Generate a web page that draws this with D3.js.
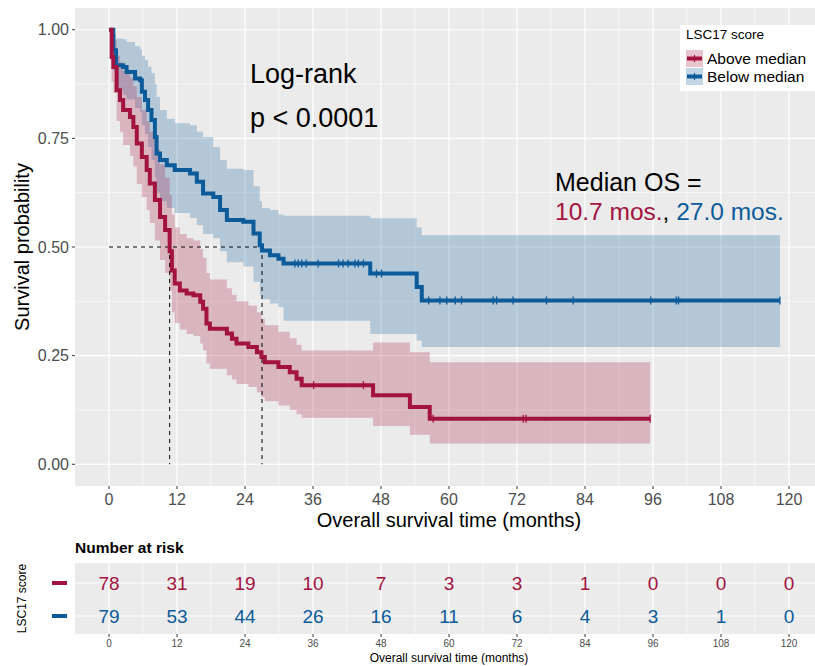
<!DOCTYPE html>
<html>
<head>
<meta charset="utf-8">
<script src="https://cdn.jsdelivr.net/npm/d3@7"></script>
<style>
  body { margin: 0; background: #fff; }
  svg text { font-family: "Liberation Sans", Arial, Helvetica, sans-serif; }
</style>
</head>
<body>
<main></main>
<script>
// survival curve for "Above median" (step points, last point = end of follow-up)
var aboveTime  = [0, 0.47, 0.76, 1.35, 1.94, 2.5, 3.7, 4.3, 4.9, 5.8, 6.65, 7.2, 8.1, 9.0, 9.9, 10.7, 11.1, 11.6, 12.5, 13.7, 14.9, 16.1, 16.6, 17.2, 17.8, 20.8, 21.7, 22.5, 24.6, 26.1, 26.9, 27.5, 29.9, 31.9, 33.1, 34.0, 46.6, 53.1, 56.6, 95.5];
var aboveSurv  = [1, 0.937, 0.914, 0.861, 0.838, 0.815, 0.799, 0.776, 0.738, 0.707, 0.677, 0.646, 0.608, 0.569, 0.539, 0.49, 0.446, 0.416, 0.400, 0.393, 0.389, 0.374, 0.358, 0.324, 0.312, 0.301, 0.289, 0.278, 0.270, 0.258, 0.247, 0.235, 0.224, 0.212, 0.197, 0.182, 0.159, 0.132, 0.105, 0.105];
var aboveUpper = [1, 0.99, 0.975, 0.94, 0.925, 0.905, 0.89, 0.87, 0.845, 0.815, 0.79, 0.765, 0.725, 0.69, 0.66, 0.62, 0.575, 0.545, 0.53, 0.52, 0.515, 0.495, 0.475, 0.44, 0.425, 0.405, 0.39, 0.375, 0.365, 0.35, 0.335, 0.32, 0.305, 0.29, 0.275, 0.262, 0.28, 0.258, 0.235, 0.235];
var aboveLower = [1, 0.88, 0.855, 0.79, 0.765, 0.735, 0.71, 0.685, 0.645, 0.615, 0.585, 0.555, 0.515, 0.47, 0.44, 0.40, 0.35, 0.325, 0.31, 0.30, 0.295, 0.278, 0.262, 0.232, 0.22, 0.205, 0.195, 0.185, 0.178, 0.166, 0.155, 0.145, 0.135, 0.125, 0.115, 0.107, 0.088, 0.068, 0.048, 0.048];
var aboveCensor = [36.1, 44.9, 57.2, 73.1, 73.6, 95.5];

// survival curve for "Below median"
var belowTime  = [0, 0.76, 1.24, 2.5, 3.1, 4.6, 5.5, 5.8, 6.35, 6.9, 7.5, 8.1, 8.4, 9.0, 10.2, 11.6, 14.3, 15.5, 16.6, 18.4, 19.6, 20.8, 23.7, 25.5, 26.6, 27.0, 28.4, 29.9, 30.8, 46.1, 54.3, 55.2, 118.4];
var belowSurv  = [1, 0.953, 0.918, 0.914, 0.903, 0.888, 0.884, 0.857, 0.838, 0.815, 0.792, 0.753, 0.715, 0.700, 0.688, 0.677, 0.669, 0.650, 0.623, 0.615, 0.585, 0.562, 0.558, 0.531, 0.504, 0.492, 0.481, 0.473, 0.462, 0.439, 0.408, 0.377, 0.377];
var belowUpper = [1, 0.99, 0.98, 0.978, 0.972, 0.962, 0.955, 0.94, 0.93, 0.915, 0.9, 0.875, 0.845, 0.815, 0.795, 0.785, 0.78, 0.765, 0.753, 0.73, 0.70, 0.68, 0.677, 0.64, 0.605, 0.59, 0.585, 0.575, 0.572, 0.566, 0.545, 0.527, 0.527];
var belowLower = [1, 0.905, 0.86, 0.85, 0.84, 0.82, 0.81, 0.78, 0.76, 0.73, 0.70, 0.66, 0.625, 0.605, 0.59, 0.578, 0.567, 0.55, 0.53, 0.52, 0.49, 0.465, 0.455, 0.42, 0.39, 0.38, 0.37, 0.362, 0.33, 0.30, 0.285, 0.27, 0.27];
var belowCensor = [32.8, 33.4, 34.0, 34.8, 36.9, 40.5, 41.3, 42.2, 43.4, 44.0, 44.9, 47.2, 48.1, 56.4, 58.4, 59.6, 61.1, 62.2, 67.8, 68.4, 71.3, 77.2, 81.9, 95.6, 100.1, 100.5, 118.4];

var medianAbove = 10.7;
var medianBelow = 27.0;

// number at risk table
var riskTimes = [0, 12, 24, 36, 48, 60, 72, 84, 96, 108, 120];
var riskAbove = [78, 31, 19, 10, 7, 3, 3, 1, 0, 0, 0];
var riskBelow = [79, 53, 44, 26, 16, 11, 6, 4, 3, 1, 0];

var xTicks = [0, 12, 24, 36, 48, 60, 72, 84, 96, 108, 120];
var yTicks = [0, 0.25, 0.5, 0.75, 1];

var groups = ["Above median", "Below median"];
var colors = ["#A3133F", "#0B5B9A"];

var W = 815, H = 666;
var svg = d3.select("main").append("svg")
  .attr("width", W).attr("height", H);

var panel = {left: 75, right: 823, top: 8, bottom: 486};
var x = d3.scaleLinear().domain([-6, 126]).range([panel.left, panel.right]);
var y = d3.scaleLinear().domain([-0.05, 1.05]).range([panel.bottom, panel.top]);

// panel background + grid
svg.append("rect")
  .attr("x", panel.left).attr("y", panel.top)
  .attr("width", panel.right - panel.left).attr("height", panel.bottom - panel.top)
  .attr("fill", "#EBEBEB");

var xMinor = d3.range(6, 126, 12);
var yMinor = [0.125, 0.375, 0.625, 0.875];
svg.selectAll(".xminor").data(xMinor).enter().append("line")
  .attr("x1", d => x(d)).attr("x2", d => x(d))
  .attr("y1", panel.top).attr("y2", panel.bottom)
  .attr("stroke", "#fff").attr("stroke-width", 0.6);
svg.selectAll(".yminor").data(yMinor).enter().append("line")
  .attr("x1", panel.left).attr("x2", panel.right)
  .attr("y1", d => y(d)).attr("y2", d => y(d))
  .attr("stroke", "#fff").attr("stroke-width", 0.6);
svg.selectAll(".xmajor").data(xTicks).enter().append("line")
  .attr("x1", d => x(d)).attr("x2", d => x(d))
  .attr("y1", panel.top).attr("y2", panel.bottom)
  .attr("stroke", "#fff").attr("stroke-width", 1.2);
svg.selectAll(".ymajor").data(yTicks).enter().append("line")
  .attr("x1", panel.left).attr("x2", panel.right)
  .attr("y1", d => y(d)).attr("y2", d => y(d))
  .attr("stroke", "#fff").attr("stroke-width", 1.2);

function rows(t, s, lo, hi) {
  return t.map((d, i) => ({t: d, s: s[i], lo: lo[i], hi: hi[i]}));
}
var series = [
  {name: groups[0], color: colors[0], data: rows(aboveTime, aboveSurv, aboveLower, aboveUpper), censor: aboveCensor},
  {name: groups[1], color: colors[1], data: rows(belowTime, belowSurv, belowLower, belowUpper), censor: belowCensor}
];

var area = d3.area().curve(d3.curveStepAfter)
  .x(d => x(d.t)).y0(d => y(d.lo)).y1(d => y(d.hi));
var line = d3.line().curve(d3.curveStepAfter)
  .x(d => x(d.t)).y(d => y(d.s));

// ribbons (blue under red like the original)
[series[1], series[0]].forEach(function(s) {
  svg.append("path").attr("d", area(s.data))
    .attr("fill", s.color).attr("fill-opacity", 0.25);
});

// median guide lines
var dash = "4,4";
svg.append("line")
  .attr("x1", x(0)).attr("x2", x(medianBelow))
  .attr("y1", y(0.5)).attr("y2", y(0.5))
  .attr("stroke", "#000").attr("stroke-width", 1).attr("stroke-dasharray", dash);
[medianAbove, medianBelow].forEach(function(m) {
  svg.append("line")
    .attr("x1", x(m)).attr("x2", x(m))
    .attr("y1", y(0.5)).attr("y2", y(0))
    .attr("stroke", "#000").attr("stroke-width", 1).attr("stroke-dasharray", dash);
});

// curves
var bis = d3.bisector(d => d.t).right;
[series[1], series[0]].forEach(function(s) {
  svg.append("path").attr("d", line(s.data))
    .attr("fill", "none").attr("stroke", s.color).attr("stroke-width", 4);
  svg.selectAll(null).data(s.censor).enter().append("line")
    .attr("x1", d => x(d)).attr("x2", d => x(d))
    .attr("y1", d => y(s.data[bis(s.data, d) - 1].s) - 4)
    .attr("y2", d => y(s.data[bis(s.data, d) - 1].s) + 4)
    .attr("stroke", s.color).attr("stroke-width", 1.3);
});

// axes
var axisColor = "#4D4D4D";
svg.selectAll(".ytick").data(yTicks).enter().append("line")
  .attr("x1", panel.left - 3).attr("x2", panel.left)
  .attr("y1", d => y(d)).attr("y2", d => y(d))
  .attr("stroke", "#333").attr("stroke-width", 1);
svg.selectAll(".ylab").data(yTicks).enter().append("text")
  .attr("x", panel.left - 6).attr("y", d => y(d))
  .attr("dy", "0.36em").attr("text-anchor", "end")
  .attr("font-size", 16).attr("fill", axisColor)
  .text(d => d3.format(".2f")(d));
svg.selectAll(".xtick").data(xTicks).enter().append("line")
  .attr("x1", d => x(d)).attr("x2", d => x(d))
  .attr("y1", panel.bottom).attr("y2", panel.bottom + 3)
  .attr("stroke", "#333").attr("stroke-width", 1);
svg.selectAll(".xlab").data(xTicks).enter().append("text")
  .attr("x", d => x(d)).attr("y", panel.bottom + 19)
  .attr("text-anchor", "middle")
  .attr("font-size", 16).attr("fill", axisColor)
  .text(d => d);

svg.append("text")
  .attr("x", (panel.left + panel.right) / 2).attr("y", 527)
  .attr("text-anchor", "middle").attr("font-size", 20).attr("fill", "#000")
  .text("Overall survival time (months)");
svg.append("text")
  .attr("transform", "translate(29," + (panel.top + panel.bottom) / 2 + ") rotate(-90)")
  .attr("text-anchor", "middle").attr("font-size", 20).attr("fill", "#000")
  .text("Survival probability");

// annotations
svg.append("text").attr("x", 250).attr("y", 83)
  .attr("font-size", 27).text("Log-rank");
svg.append("text").attr("x", 250).attr("y", 127)
  .attr("font-size", 27).text("p < 0.0001");
svg.append("text").attr("x", 555).attr("y", 191)
  .attr("font-size", 25).text("Median OS =");
var med = svg.append("text").attr("x", 555).attr("y", 220).attr("font-size", 24.5);
med.append("tspan").attr("fill", colors[0]).text(medianAbove.toFixed(1) + " mos.");
med.append("tspan").attr("fill", "#000").text(", ");
med.append("tspan").attr("fill", colors[1]).text(medianBelow.toFixed(1) + " mos.");

// legend
var lg = svg.append("g").attr("transform", "translate(680,25)");
lg.append("rect").attr("width", 140).attr("height", 66).attr("fill", "#fff");
lg.append("text").attr("x", 6).attr("y", 14).attr("font-size", 13.5).text("LSC17 score");
groups.forEach(function(g, i) {
  var k = lg.append("g").attr("transform", "translate(6," + (25 + i * 18) + ")");
  k.append("rect").attr("width", 17).attr("height", 17)
    .attr("fill", colors[i]).attr("fill-opacity", 0.25);
  k.append("line").attr("x1", 1).attr("x2", 16).attr("y1", 8.5).attr("y2", 8.5)
    .attr("stroke", colors[i]).attr("stroke-width", 4);
  k.append("line").attr("x1", 8.5).attr("x2", 8.5).attr("y1", 5).attr("y2", 12)
    .attr("stroke", colors[i]).attr("stroke-width", 1.2);
  k.append("text").attr("x", 21).attr("y", 8.5).attr("dy", "0.36em")
    .attr("font-size", 15.5).text(g);
});

// number at risk table
var rp = {top: 563, bottom: 634};
var ry = d3.scalePoint().domain(groups).range([rp.top + 20, rp.bottom - 18]);

svg.append("text").attr("x", panel.left).attr("y", 553)
  .attr("font-size", 15.5).attr("font-weight", "bold").text("Number at risk");

svg.append("rect")
  .attr("x", panel.left).attr("y", rp.top)
  .attr("width", panel.right - panel.left).attr("height", rp.bottom - rp.top)
  .attr("fill", "#EBEBEB");
svg.selectAll(".rminor").data(xMinor).enter().append("line")
  .attr("x1", d => x(d)).attr("x2", d => x(d))
  .attr("y1", rp.top).attr("y2", rp.bottom)
  .attr("stroke", "#fff").attr("stroke-width", 0.6);
svg.selectAll(".rmajor").data(xTicks).enter().append("line")
  .attr("x1", d => x(d)).attr("x2", d => x(d))
  .attr("y1", rp.top).attr("y2", rp.bottom)
  .attr("stroke", "#fff").attr("stroke-width", 1.2);
svg.selectAll(".rrow").data(groups).enter().append("line")
  .attr("x1", panel.left).attr("x2", panel.right)
  .attr("y1", d => ry(d)).attr("y2", d => ry(d))
  .attr("stroke", "#fff").attr("stroke-width", 1.2);

[riskAbove, riskBelow].forEach(function(vals, i) {
  svg.selectAll(null).data(vals).enter().append("text")
    .attr("x", (d, j) => x(riskTimes[j])).attr("y", ry(groups[i]))
    .attr("dy", "0.36em").attr("text-anchor", "middle")
    .attr("font-size", 19).attr("fill", colors[i])
    .text(d => d);
  svg.append("line")
    .attr("x1", 52).attr("x2", 67)
    .attr("y1", ry(groups[i])).attr("y2", ry(groups[i]))
    .attr("stroke", colors[i]).attr("stroke-width", 4);
});

svg.selectAll(".rtick").data(xTicks).enter().append("line")
  .attr("x1", d => x(d)).attr("x2", d => x(d))
  .attr("y1", rp.bottom).attr("y2", rp.bottom + 3)
  .attr("stroke", "#333").attr("stroke-width", 1);
svg.selectAll(".rlab").data(xTicks).enter().append("text")
  .attr("x", d => x(d)).attr("y", 647)
  .attr("text-anchor", "middle").attr("font-size", 10).attr("fill", axisColor)
  .text(d => d);
svg.append("text")
  .attr("x", (panel.left + panel.right) / 2).attr("y", 662)
  .attr("text-anchor", "middle").attr("font-size", 12)
  .text("Overall survival time (months)");
svg.append("text")
  .attr("transform", "translate(26," + (rp.top + rp.bottom) / 2 + ") rotate(-90)")
  .attr("text-anchor", "middle").attr("font-size", 12).attr("fill", "#000")
  .text("LSC17 score");
</script>
</body>
</html>
